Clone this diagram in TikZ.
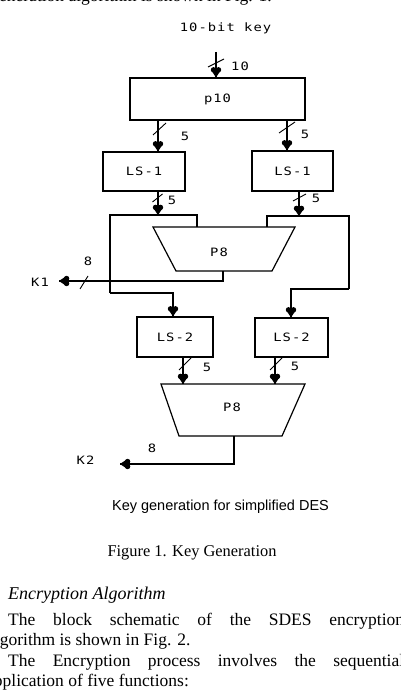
\documentclass[tikz,border=0pt]{standalone}
\usepackage{fontspec}
\setmainfont{Liberation Serif}
\newfontfamily\monof[FakeStretch=1.2,LetterSpace=9]{DejaVu Sans Mono}
\newfontfamily\capf{Liberation Sans}
\usetikzlibrary{calc}
\begin{document}
\begin{tikzpicture}[x=1pt,y=-1pt,
  wire/.style={line width=1.2pt},
  blk/.style={draw,line width=1.2pt,inner sep=0pt},
  lbl/.style={font=\monof\fontsize{11.5}{13}\selectfont,inner sep=0pt},
  bus/.style={line width=0.9pt},
  body/.style={font=\fontsize{17.5}{20.3}\selectfont,inner sep=0pt},
  hearttip/.pic={
    \fill (0,0) -- (-4.9,-7.2) -- (4.9,-7.2) -- cycle;
    \fill (-2.5,-7.6) circle[radius=2.7];
    \fill (2.5,-7.6) circle[radius=2.7];
  },
  ]
\useasboundingbox (0,0) rectangle (400,692);
\clip (0,0) rectangle (400,692);
\fill[white] (0,0) rectangle (400,692);

% cut text at top
\node[body,anchor=base east] (toptxt) at (272,1.5) {key generation algorithm is shown in Fig. 1.};

% boxes
\node[lbl] (title) at (225.5,28.5) {10-bit key};
\node[blk,lbl,minimum width=175pt,minimum height=42pt] (p10) at (217.5,99) {p10};
\node[blk,lbl,minimum width=82pt,minimum height=39pt] (ls1a) at (144,171.5) {LS-1};
\node[blk,lbl,minimum width=81pt,minimum height=40pt] (ls1b) at (292.5,171) {LS-1};
\node[blk,lbl,minimum width=76pt,minimum height=40pt] (ls2a) at (175,337) {LS-2};
\node[blk,lbl,minimum width=73pt,minimum height=39pt] (ls2b) at (291.5,337.5) {LS-2};

% trapezoids
\coordinate (p8atl) at (153,227);
\coordinate (p8atr) at (295,227);
\coordinate (p8abr) at (272,271);
\coordinate (p8abl) at (176,271);
\draw[wire] (p8atl) -- (p8atr) -- (p8abr) -- (p8abl) -- cycle;
\node[lbl] (p8a) at (219,252) {P8};
\coordinate (p8btl) at (161,384);
\coordinate (p8btr) at (305,384);
\coordinate (p8bbr) at (282,436);
\coordinate (p8bbl) at (179,436);
\draw[wire] (p8btl) -- (p8btr) -- (p8bbr) -- (p8bbl) -- cycle;
\node[lbl] (p8b) at (232,407) {P8};

\node[lbl] (k1) at (40,282) {K1};
\node[lbl] (k2) at (85.5,460) {K2};

% helper coordinates
\coordinate (xin) at (216,52);
\coordinate (xa) at (158,0);
\coordinate (xb) at (287,0);
\coordinate (xc) at (158,0);
\coordinate (xd) at (299,0);
\coordinate (ja) at (110,215);
\coordinate (jb) at (197,215);
\coordinate (jc) at (110,293);
\coordinate (xe) at (173,0);
\coordinate (jd) at (267,216);
\coordinate (je) at (349,216);
\coordinate (jf) at (349,289);
\coordinate (xf) at (291,0);
\coordinate (k1c) at (223,281);
\coordinate (k1tip) at (59,281);
\coordinate (xh) at (183,0);
\coordinate (xi) at (275,0);
\coordinate (k2c) at (234,464);
\coordinate (k2tip) at (120,464);

% connectors
\draw[wire] (xin) -- (xin |- p10.north) pic {hearttip};
\draw[wire] (p10.south -| xa) -- (ls1a.north -| xa) pic {hearttip};
\draw[wire] (p10.south -| xb) -- (ls1b.north -| xb) pic {hearttip};
\draw[wire] (ls1a.south -| xc) -- (xc |- ja) pic {hearttip};
\draw[wire] (ls1b.south -| xd) -- (xd |- jd) pic {hearttip};
\draw[wire] (jb |- p8atl) -- (jb) -- (ja) -- (jc);
\draw[wire] (jc) -| (ls2a.north -| xe) pic {hearttip};
\draw[wire] (jd |- p8atl) -- (jd) -- (je) -- (jf);
\draw[wire] (jf) -| (ls2b.north -| xf) pic {hearttip};
\draw[wire] (p8abl -| k1c) -- (k1c) -- (k1tip) pic[rotate=-90] {hearttip};
\draw[wire] (ls2a.south -| xh) -- (p8btl -| xh) pic {hearttip};
\draw[wire] (ls2b.south -| xi) -- (p8btl -| xi) pic {hearttip};
\draw[wire] (p8bbl -| k2c) -- (k2c) -- (k2tip) pic[rotate=-90] {hearttip};

% bus slashes
\draw[bus] (216,63) ++(-8,4) -- ++(16,-8);
\draw[bus] (159.5,129) ++(-6.5,6) -- ++(13,-12);
\draw[bus] (287,127.5) ++(-8,5.5) -- ++(16,-11);
\draw[bus] (157.5,198) ++(-5,4) -- ++(10,-8);
\draw[bus] (299.5,197.5) ++(-6.5,3.5) -- ++(13,-7);
\draw[bus] (84,282.5) ++(-4,6.5) -- ++(8,-13);
\draw[bus] (185,364) ++(-6,6) -- ++(12,-12);
\draw[bus] (276,364) ++(-6,6) -- ++(12,-12);

% bus widths
\node[lbl] (w10) at (240,66) {10};
\node[lbl] (w5a) at (185,136) {5};
\node[lbl] (w5b) at (305,134) {5};
\node[lbl] (w5c) at (172,200) {5};
\node[lbl] (w5d) at (316,198) {5};
\node[lbl] (w8a) at (88,261) {8};
\node[lbl] (w5e) at (207,367) {5};
\node[lbl] (w5f) at (295,366) {5};
\node[lbl] (w8b) at (152,448) {8};

% captions and body
\node[font=\capf\fontsize{14.5}{17}\selectfont,inner sep=0pt,anchor=base] (cap) at (220.5,510) {Key generation for simplified DES};
\node[font=\fontsize{16.4}{19}\selectfont,inner sep=0pt,anchor=base] (fig) at (192,556.7) {Figure 1. Key Generation};
\node[font=\itshape\fontsize{18}{20}\selectfont,inner sep=0pt,anchor=base west] (enc) at (8,599) {Encryption Algorithm};
\node[body,anchor=base west] (l1) at (8,625.7) {\makebox[396pt][s]{The block schematic of the SDES encryption}};
\node[body,anchor=base west] (l2) at (-13,645.9) {algorithm is shown in Fig. 2.};
\node[body,anchor=base west] (l3) at (8,666.5) {\makebox[396pt][s]{The Encryption process involves the sequential}};
\node[body,anchor=base west] (l4) at (-14,686.7) {application of five functions:};
\end{tikzpicture}
\end{document}
